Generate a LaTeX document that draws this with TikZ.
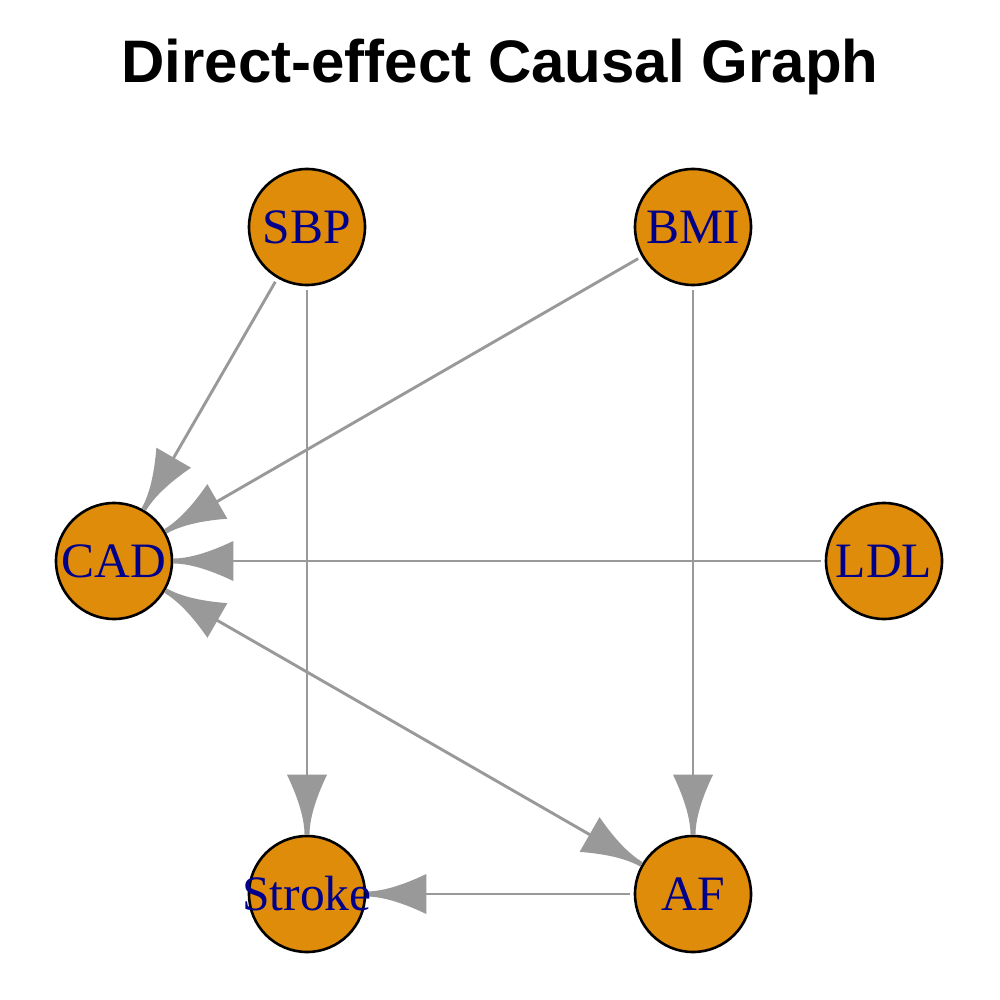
\documentclass[tikz,border=0pt]{standalone}
\usepackage{fontspec}
\setmainfont{Liberation Serif}
\newfontfamily\titlefont{Liberation Sans}
\definecolor{nodefill}{RGB}{223,140,10}
\definecolor{edgegray}{RGB}{153,153,153}
\definecolor{labelblue}{RGB}{0,0,139}
\pgfdeclarearrow{
  name = IG,
  setup code = {
    \pgfarrowssettipend{0pt}
    \pgfarrowssetbackend{-60pt}
    \pgfarrowssetlineend{-40pt}
    \pgfarrowsupperhullpoint{0pt}{2.5pt}
    \pgfarrowsupperhullpoint{-60pt}{20pt}
  },
  drawing code = {
    \pgfpathmoveto{\pgfqpoint{0pt}{2.5pt}}
    \pgfpathcurveto{\pgfqpoint{-15pt}{2.5pt}}{\pgfqpoint{-35pt}{8pt}}{\pgfqpoint{-60pt}{20pt}}
    \pgfpathlineto{\pgfqpoint{-60pt}{-20pt}}
    \pgfpathcurveto{\pgfqpoint{-35pt}{-8pt}}{\pgfqpoint{-15pt}{-2.5pt}}{\pgfqpoint{0pt}{-2.5pt}}
    \pgfpathclose
    \pgfusepathqfill
  },
  defaults = {}
}
\begin{document}
\begin{tikzpicture}[x=1pt,y=-1pt,
  vtx/.style={circle, draw=black, line width=2.6pt, fill=nodefill, minimum size=116pt, inner sep=0pt},
  vlab/.style={text=labelblue, font=\fontsize{49.5}{56}\selectfont, inner sep=0pt},
  edge/.style={color=edgegray, line width=2.9pt, -IG, shorten <=4pt},
  biedge/.style={color=edgegray, line width=2.9pt, IG-IG}]
\fill[white] (0,0) rectangle (1000,1000);
\node[font=\titlefont\bfseries\fontsize{60}{70}\selectfont, anchor=base] (title) at (500,83) {Direct-effect Causal Graph};
% vertices
\node[vtx] (sbp) at (307,227) {};
\node[vtx] (bmi) at (693,227) {};
\node[vtx] (cad) at (114,561) {};
\node[vtx] (ldl) at (884,561) {};
\node[vtx] (stroke) at (307,894) {};
\node[vtx] (af) at (693,894) {};
% edges
\draw[edge] (sbp) -- (cad);
\draw[edge] (sbp) -- (stroke);
\draw[edge] (bmi) -- (cad);
\draw[edge] (bmi) -- (af);
\draw[edge] (ldl) -- (cad);
\draw[biedge] (cad) -- (af);
\draw[edge] (af) -- (stroke);
% labels
\node[vlab] (sbpT) at (sbp) {SBP};
\node[vlab] (bmiT) at (bmi) {BMI};
\node[vlab] (cadT) at (cad) {CAD};
\node[vlab] (ldlT) at (ldl) {LDL};
\node[vlab] (strokeT) at (stroke) {Stroke};
\node[vlab] (afT) at (af) {AF};
\end{tikzpicture}
\end{document}
